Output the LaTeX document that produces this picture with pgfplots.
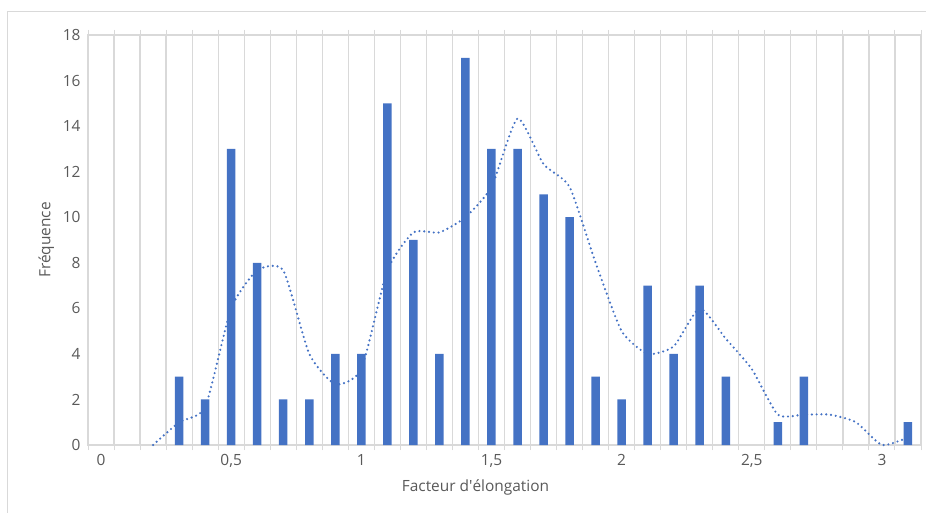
\documentclass[border=0pt]{standalone}
\usepackage{pgfplots}
\pgfplotsset{compat=1.18}
\usepackage{fontspec}
\setmainfont{Open Sans}
\definecolor{barblue}{HTML}{4472C4}
\definecolor{gridgray}{HTML}{D9D9D9}
\definecolor{textgray}{HTML}{595959}
\begin{document}
\begin{tikzpicture}
\begin{axis}[
  scale only axis,
  width=833bp, height=410bp,
  xmin=-0.05, xmax=3.15,
  ymin=0, ymax=18,
  ytick={0,2,...,18},
  xtick={0,0.5,1,1.5,2,2.5,3},
  xticklabels={0,{0,5},1,{1,5},2,{2,5},3},
  minor xtick={-0.05,0.05,0.15,0.25,0.35,0.45,0.55,0.65,0.75,0.85,0.95,1.05,1.15,1.25,1.35,1.45,1.55,1.65,1.75,1.85,1.95,2.05,2.15,2.25,2.35,2.45,2.55,2.65,2.75,2.85,2.95,3.05,3.15},
  xminorgrids=true,
  minor grid style={gridgray, line width=1.2bp},
  major tick length=0pt,
  minor tick length=5bp,
  tick align=outside,
  tick style={gridgray, line width=1bp},
  axis line style={gridgray, line width=1.2bp},
  /pgf/number format/assume math mode=true,
  /pgf/number format/use comma,
  ticklabel style={font=\fontsize{15.5}{18}\selectfont, text=textgray},
  yticklabel style={xshift=-4bp},
  xticklabel style={yshift=-6bp},
  xlabel={Facteur d\textquotesingle élongation},
  ylabel={Fréquence},
  label style={font=\fontsize{15.5}{18}\selectfont, text=textgray},
  xlabel style={yshift=-5bp, xshift=-29bp},
  ylabel style={yshift=2bp},
  clip=false,
]
\addplot[ybar, bar width=8.5bp, fill=barblue, draw=none] coordinates {
 (0.3,3) (0.4,2) (0.5,13) (0.6,8) (0.7,2) (0.8,2) (0.9,4) (1.0,4)
 (1.1,15) (1.2,9) (1.3,4) (1.4,17) (1.5,13) (1.6,13) (1.7,11) (1.8,10)
 (1.9,3) (2.0,2) (2.1,7) (2.2,4) (2.3,7) (2.4,3) (2.6,1) (2.7,3) (3.1,1)
};
\addplot[barblue, line width=2.4bp, line cap=round, dash pattern=on 0pt off 4.8bp, smooth, tension=0.35] coordinates {
 (0.2,0) (0.3,1) (0.4,1.667) (0.5,6) (0.6,7.667) (0.7,7.667) (0.8,4) (0.9,2.667)
 (1.0,3.333) (1.1,7.667) (1.2,9.333) (1.3,9.333) (1.4,10) (1.5,11.333) (1.6,14.333)
 (1.7,12.333) (1.8,11.333) (1.9,8) (2.0,5) (2.1,4) (2.2,4.333) (2.3,6) (2.4,4.667)
 (2.5,3.333) (2.6,1.333) (2.7,1.333) (2.8,1.333) (2.9,1) (3.0,0) (3.1,0.333)
};
\end{axis}
\path[use as bounding box] ([xshift=-88bp,yshift=-68bp]current axis.south west) rectangle ([xshift=5bp,yshift=35bp]current axis.north east);
\draw[gridgray, line width=1bp] ([xshift=-80bp,yshift=-80bp]current axis.south west) -- ([xshift=-80bp,yshift=23bp]current axis.north west) -- ([xshift=20bp,yshift=23bp]current axis.north east);
\end{tikzpicture}
\end{document}
